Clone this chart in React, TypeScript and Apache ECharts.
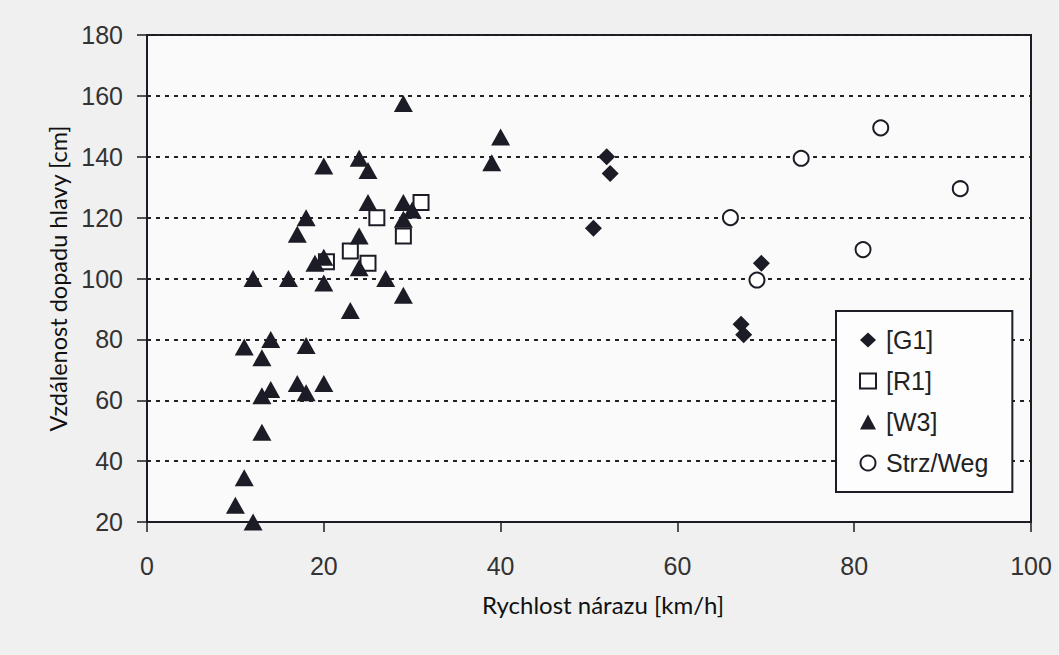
import React, { useEffect, useRef } from "react";
import * as echarts from "echarts";

const seriesNames = ["[G1]", "[R1]", "[W3]", "Strz/Weg"];

const g1Data: number[][] = [
  [52, 140], [52.4, 134.5], [50.5, 116.5], [69.5, 105], [67.2, 85], [67.5, 81.5],
];
const r1Data: number[][] = [
  [31, 125], [26, 120], [29, 114], [23, 109], [25, 105], [20.3, 105.5],
];
const w3Data: number[][] = [
  [29, 157.5], [40, 146.5], [39, 138], [20, 137], [24, 139.5], [25, 135.5],
  [25, 125], [29, 125], [30, 122.5], [29, 119.5], [18, 120], [17, 114.5],
  [24, 114], [19, 105], [20, 107], [24, 103.5], [12, 100], [16, 100],
  [20, 98.5], [27, 100], [29, 94.5], [23, 89.5], [11, 77.5], [14, 80],
  [18, 78], [13, 74], [17, 65.5], [18, 62.5], [20, 65.5], [14, 63.5],
  [13, 61.5], [13, 49.5], [11, 34.5], [10, 25.5], [12, 20],
];
const strzData: number[][] = [
  [83, 149.5], [74, 139.5], [92, 129.5], [66, 120], [81, 109.5], [69, 99.5],
];

const xTitle = "Rychlost nárazu [km/h]";
const yTitle = "Vzdálenost dopadu hlavy [cm]";

const INK = "#1c1c26";
const tickFont = "'Liberation Sans', Arial, sans-serif";
const titleFont = "Lato, 'Open Sans', sans-serif";

export default function App() {
  const ref = useRef<HTMLDivElement>(null);
  useEffect(() => {
    if (!ref.current) return;
    const chart = echarts.init(ref.current, undefined, { renderer: "svg" });
    chart.setOption({
      animation: false,
      backgroundColor: "#f0f0f0",
      grid: {
        left: 147,
        top: 35,
        right: 28,
        bottom: 133,
        show: true,
        backgroundColor: "#fafafa",
        borderColor: INK,
        borderWidth: 2,
      },
      legend: {
        orient: "vertical",
        left: 836,
        top: 311,
        data: seriesNames,
        itemWidth: 16,
        itemHeight: 15,
        itemGap: 13,
        symbolKeepAspect: true,
        padding: [15, 24, 15, 23],
        borderColor: INK,
        borderWidth: 2,
        backgroundColor: "#fdfdfd",
        textStyle: {
          fontFamily: tickFont,
          fontSize: 25,
          lineHeight: 28,
          color: "#222",
          padding: [0, 0, 0, 5],
        },
      },
      xAxis: {
        type: "value",
        min: 0,
        max: 100,
        interval: 20,
        name: xTitle,
        nameLocation: "middle",
        nameGap: 70,
        nameTextStyle: {
          fontFamily: titleFont,
          fontSize: 24,
          color: "#111",
          padding: [0, 0, 0, 28],
        },
        axisLine: { show: true, lineStyle: { color: INK, width: 2 } },
        axisTick: { show: true, inside: false, length: 10, lineStyle: { color: INK, width: 1.5 } },
        axisLabel: {
          margin: 31,
          fontFamily: tickFont,
          fontSize: 25,
          color: "#333",
        },
        splitLine: { show: false },
      },
      yAxis: {
        type: "value",
        min: 20,
        max: 180,
        interval: 20,
        name: yTitle,
        nameLocation: "middle",
        nameGap: 74,
        nameTextStyle: {
          fontFamily: titleFont,
          fontSize: 23.5,
          color: "#111",
        },
        axisLine: { show: true, lineStyle: { color: INK, width: 2 } },
        axisTick: { show: true, inside: false, length: 10, lineStyle: { color: INK, width: 1.5 } },
        axisLabel: {
          margin: 24,
          fontFamily: tickFont,
          fontSize: 25,
          color: "#333",
        },
        splitLine: {
          show: true,
          lineStyle: { color: "#222", width: 2, type: [4, 5] },
        },
      },
      series: [
        {
          name: seriesNames[0],
          type: "scatter",
          data: g1Data,
          symbol: "diamond",
          symbolSize: 17,
          itemStyle: { color: INK, opacity: 1 },
        },
        {
          name: seriesNames[1],
          type: "scatter",
          data: r1Data,
          symbol: "rect",
          symbolSize: 15,
          itemStyle: { color: "#ffffff", borderColor: INK, borderWidth: 2, opacity: 1 },
        },
        {
          name: seriesNames[2],
          type: "scatter",
          data: w3Data,
          symbol: "triangle",
          symbolSize: [19, 17],
          itemStyle: { color: INK, opacity: 1 },
        },
        {
          name: seriesNames[3],
          type: "scatter",
          data: strzData,
          symbol: "circle",
          symbolSize: 15,
          itemStyle: { color: "#ffffff", borderColor: INK, borderWidth: 2, opacity: 1 },
        },
      ],
    });
    return () => chart.dispose();
  }, []);
  return (
    <div
      ref={ref}
      style={{ position: "fixed", left: 0, top: 0, width: 1059, height: 655 }}
    />
  );
}
